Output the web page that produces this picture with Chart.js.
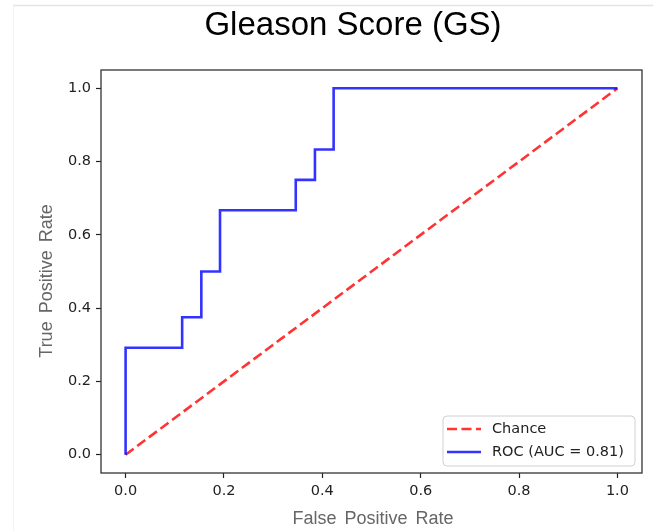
<!DOCTYPE html>
<html>
<head>
<meta charset="utf-8">
<script src="https://cdn.jsdelivr.net/npm/chart.js@4/dist/chart.umd.min.js"></script>
<style>
  html, body { margin: 0; padding: 0; background: #ffffff; }
  #wrap { width: 653px; height: 531px; position: relative; }
</style>
</head>
<body>
<div id="wrap"><canvas id="c" width="653" height="531"></canvas></div>
<script>
// ---- data ----
const chartTitle = "Gleason Score (GS)";
const xAxisTitle = "False Positive Rate";
const yAxisTitle = "True Positive Rate";
const rocLabel = "ROC (AUC = 0.81)";
const chanceLabel = "Chance";
const rocFpr = [0, 0, 0.115, 0.115, 0.154, 0.154, 0.192, 0.192, 0.346, 0.346, 0.385, 0.385, 0.423, 0.423, 1.0];
const rocTpr = [0, 0.292, 0.292, 0.375, 0.375, 0.5, 0.5, 0.667, 0.667, 0.75, 0.75, 0.833, 0.833, 1.0, 1.0];
const chanceX = [0, 1];
const chanceY = [0, 1];
const xTickValues = [0.0, 0.2, 0.4, 0.6, 0.8, 1.0];
const yTickValues = [0.0, 0.2, 0.4, 0.6, 0.8, 1.0];

const toPts = (xs, ys) => xs.map((x, i) => ({ x: x, y: ys[i] }));

const BLUE = 'rgba(0,0,255,0.8)';
const RED = 'rgba(255,0,0,0.8)';
const TICK_FONT = { family: 'DejaVu Sans', size: 14.5 };

const decorPlugin = {
  id: 'decor',
  beforeDraw(chart) {
    const ctx = chart.ctx;
    ctx.save();
    ctx.fillStyle = '#ffffff';
    ctx.fillRect(0, 0, chart.width, chart.height);
    ctx.strokeStyle = '#e4e4e4';
    ctx.lineWidth = 1.5;
    ctx.beginPath();
    ctx.moveTo(13, 5.5); ctx.lineTo(chart.width, 5.5);
    ctx.stroke();
    ctx.strokeStyle = '#f3f3f3';
    ctx.lineWidth = 1;
    ctx.beginPath();
    ctx.moveTo(13.5, 5.5); ctx.lineTo(13.5, chart.height);
    ctx.stroke();
    ctx.restore();
  },
  afterDraw(chart) {
    const ctx = chart.ctx;
    const a = chart.chartArea;
    ctx.save();
    // frame
    ctx.strokeStyle = '#333333';
    ctx.lineWidth = 1.3;
    ctx.strokeRect(a.left, a.top, a.right - a.left, a.bottom - a.top);

    // title
    ctx.fillStyle = '#000000';
    ctx.font = '33px "Liberation Sans", Arial, sans-serif';
    ctx.textAlign = 'center';
    ctx.textBaseline = 'alphabetic';
    ctx.fillText(chartTitle, 353, 35);

    // axis titles
    ctx.fillStyle = '#666666';
    ctx.font = '18px "Liberation Sans", Arial, sans-serif';
    try { ctx.wordSpacing = '3px'; } catch (e) {}
    ctx.textBaseline = 'alphabetic';
    ctx.fillText(xAxisTitle, 373, 524);
    ctx.save();
    ctx.translate(52, 281);
    ctx.rotate(-Math.PI / 2);
    ctx.fillText(yAxisTitle, 0, 0);
    ctx.restore();
    try { ctx.wordSpacing = '0px'; } catch (e) {}

    // legend
    const lx = 443, ly = 416, lw = 192, lh = 50, r = 4;
    ctx.beginPath();
    ctx.moveTo(lx + r, ly);
    ctx.lineTo(lx + lw - r, ly);
    ctx.quadraticCurveTo(lx + lw, ly, lx + lw, ly + r);
    ctx.lineTo(lx + lw, ly + lh - r);
    ctx.quadraticCurveTo(lx + lw, ly + lh, lx + lw - r, ly + lh);
    ctx.lineTo(lx + r, ly + lh);
    ctx.quadraticCurveTo(lx, ly + lh, lx, ly + lh - r);
    ctx.lineTo(lx, ly + r);
    ctx.quadraticCurveTo(lx, ly, lx + r, ly);
    ctx.closePath();
    ctx.fillStyle = 'rgba(255,255,255,0.85)';
    ctx.fill();
    ctx.strokeStyle = '#d0d0d0';
    ctx.lineWidth = 1;
    ctx.stroke();

    const items = [
      { label: chart.data.datasets[1].label, color: RED, dash: [10, 4.5], y: 429 },
      { label: chart.data.datasets[0].label, color: BLUE, dash: [], y: 452 }
    ];
    items.forEach(it => {
      ctx.beginPath();
      ctx.setLineDash(it.dash);
      ctx.strokeStyle = it.color;
      ctx.lineWidth = 2.6;
      ctx.moveTo(447, it.y);
      ctx.lineTo(481, it.y);
      ctx.stroke();
      ctx.setLineDash([]);
      ctx.fillStyle = '#222222';
      ctx.font = '14.5px "DejaVu Sans", sans-serif';
      ctx.textAlign = 'left';
      ctx.textBaseline = 'middle';
      ctx.fillText(it.label, 492, it.y);
    });
    ctx.restore();
  }
};

new Chart(document.getElementById('c'), {
  type: 'scatter',
  data: {
    datasets: [
      {
        label: rocLabel,
        data: toPts(rocFpr, rocTpr),
        showLine: true,
        borderColor: BLUE,
        backgroundColor: BLUE,
        borderWidth: 2.6,
        pointRadius: 0,
        pointHoverRadius: 0,
        tension: 0,
        order: 0
      },
      {
        label: chanceLabel,
        data: toPts(chanceX, chanceY),
        showLine: true,
        borderColor: RED,
        backgroundColor: RED,
        borderWidth: 2.6,
        borderDash: [10, 4.5],
        pointRadius: 0,
        pointHoverRadius: 0,
        order: 1
      }
    ]
  },
  options: {
    responsive: false,
    animation: false,
    events: [],
    layout: { padding: { top: 70, right: 11, left: 0, bottom: 0 } },
    plugins: {
      legend: { display: false },
      title: { display: false },
      tooltip: { enabled: false }
    },
    scales: {
      x: {
        type: 'linear',
        min: -0.05,
        max: 1.05,
        afterBuildTicks: s => { s.ticks = xTickValues.map(v => ({ value: v })); },
        afterFit: s => { s.height = 58; },
        grid: { drawOnChartArea: false, drawTicks: true, tickLength: 5, color: '#222222', tickWidth: 1.2 },
        border: { display: false },
        ticks: {
          color: '#222222',
          font: TICK_FONT,
          padding: 5,
          maxRotation: 0,
          autoSkip: false,
          callback: v => Number(v).toFixed(1)
        },
        title: { display: false }
      },
      y: {
        type: 'linear',
        min: -0.05,
        max: 1.05,
        afterBuildTicks: s => { s.ticks = yTickValues.map(v => ({ value: v })); },
        afterFit: s => { s.width = 101; },
        grid: { drawOnChartArea: false, drawTicks: true, tickLength: 5, color: '#222222', tickWidth: 1.2 },
        border: { display: false },
        ticks: {
          color: '#222222',
          font: TICK_FONT,
          padding: 5,
          autoSkip: false,
          callback: v => Number(v).toFixed(1)
        },
        title: { display: false }
      }
    }
  },
  plugins: [decorPlugin]
});
</script>
</body>
</html>
